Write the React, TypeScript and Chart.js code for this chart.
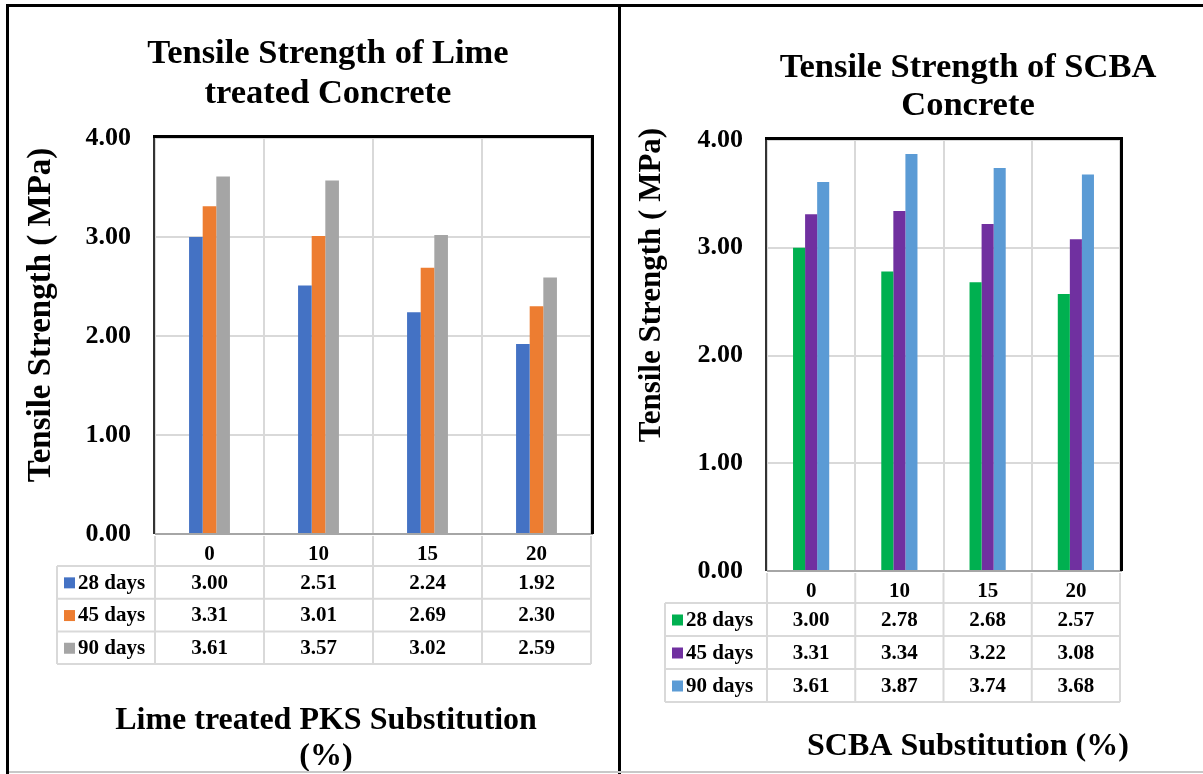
import React, { useEffect, useRef } from 'react';
import { Chart, registerables } from 'chart.js';

Chart.register(...registerables);

// ---------- data ----------
const categories = ['0', '10', '15', '20'];
const seriesNames = ['28 days', '45 days', '90 days'];
const yTicks = [0, 1, 2, 3, 4];

const lime28 = [3.0, 2.51, 2.24, 1.92];
const lime45 = [3.31, 3.01, 2.69, 2.3];
const lime90 = [3.61, 3.57, 3.02, 2.59];

const scba28 = [3.0, 2.78, 2.68, 2.57];
const scba45 = [3.31, 3.34, 3.22, 3.08];
const scba90 = [3.61, 3.87, 3.74, 3.68];

const limeTitle = ['Tensile Strength of Lime', 'treated Concrete'];
const limeXTitle = ['Lime treated PKS Substitution', '(%)'];
const scbaTitle = ['Tensile Strength of SCBA', 'Concrete'];
const scbaXTitle = ['SCBA Substitution (%)'];
const yTitleText = 'Tensile Strength ( MPa)';

const limeColors = ['#4472C4', '#ED7D31', '#A5A5A5'];
const scbaColors = ['#00B050', '#7030A0', '#5B9BD5'];

const FONT = '"Liberation Serif", "Times New Roman", serif';

// ---------- layout specs ----------
type Spec = {
  w: number;
  h: number;
  area: { left: number; right: number; top: number; bottom: number };
  series: number[][];
  colors: string[];
  catPct: number;
  title: string[];
  titleX: number;
  titleBase: number[];
  titleSize: number;
  xTitle: string[];
  xTitleX: number;
  xTitleBase: number[];
  xTitleSize: number;
  yTitleX: number;
  yTitleY: number;
  yTitleSize: number;
  legendLeft: number;
  headerGap: number;
  headerH: number;
  rowH: number;
};

const limeSpec: Spec = {
  w: 618,
  h: 772,
  area: { left: 155, right: 591, top: 138, bottom: 534 },
  series: [lime28, lime45, lime90],
  colors: limeColors,
  catPct: 0.375,
  title: limeTitle,
  titleX: 328,
  titleBase: [63, 103],
  titleSize: 34.5,
  xTitle: limeXTitle,
  xTitleX: 326,
  xTitleBase: [729, 765],
  xTitleSize: 32,
  yTitleX: 41,
  yTitleY: 315,
  yTitleSize: 33,
  legendLeft: 57,
  headerGap: 2,
  headerH: 30,
  rowH: 32.7,
};

const scbaSpec: Spec = {
  w: 582,
  h: 772,
  area: { left: 146, right: 499, top: 140, bottom: 571 },
  series: [scba28, scba45, scba90],
  colors: scbaColors,
  catPct: 0.41,
  title: scbaTitle,
  titleX: 347,
  titleBase: [77, 115],
  titleSize: 34.5,
  xTitle: scbaXTitle,
  xTitleX: 347,
  xTitleBase: [755],
  xTitleSize: 32,
  yTitleX: 31,
  yTitleY: 285,
  yTitleSize: 31,
  legendLeft: 44,
  headerGap: 2,
  headerH: 30,
  rowH: 33,
};

// ---------- plugins ----------
const panelTextPlugin = {
  id: 'panelText',
  afterDraw(chart: any, _a: any, opts: any) {
    const s: Spec = opts.spec;
    const ctx = chart.ctx;
    ctx.save();
    ctx.fillStyle = '#000';
    ctx.textAlign = 'center';
    ctx.textBaseline = 'alphabetic';
    ctx.font = `bold ${s.titleSize}px ${FONT}`;
    s.title.forEach((t, i) => ctx.fillText(t, s.titleX, s.titleBase[i]));
    ctx.font = `bold ${s.xTitleSize}px ${FONT}`;
    s.xTitle.forEach((t, i) => ctx.fillText(t, s.xTitleX, s.xTitleBase[i]));
    ctx.translate(s.yTitleX, s.yTitleY);
    ctx.rotate(-Math.PI / 2);
    ctx.textBaseline = 'middle';
    ctx.font = `bold ${s.yTitleSize}px ${FONT}`;
    ctx.fillText(yTitleText, 0, 0);
    ctx.restore();
  },
};

const framePlugin = {
  id: 'plotFrame',
  afterDatasetsDraw(chart: any) {
    const { ctx, chartArea: a } = chart;
    ctx.save();
    ctx.lineCap = 'butt';
    ctx.strokeStyle = '#A6A6A6';
    ctx.lineWidth = 2;
    ctx.beginPath();
    ctx.moveTo(a.left, a.bottom);
    ctx.lineTo(a.right + 2, a.bottom);
    ctx.stroke();
    ctx.strokeStyle = '#333';
    ctx.lineWidth = 2;
    ctx.beginPath();
    ctx.moveTo(a.left - 1, a.top - 2);
    ctx.lineTo(a.left - 1, a.bottom);
    ctx.stroke();
    ctx.strokeStyle = '#000';
    ctx.lineWidth = 3;
    ctx.beginPath();
    ctx.moveTo(a.left - 2, a.top - 1.5);
    ctx.lineTo(a.right + 1.5, a.top - 1.5);
    ctx.lineTo(a.right + 1.5, a.bottom);
    ctx.stroke();
    ctx.restore();
  },
};

const tablePlugin = {
  id: 'dataTable',
  afterDraw(chart: any, _a: any, opts: any) {
    const s: Spec = opts.spec;
    const { ctx, chartArea: a } = chart;
    const xs = chart.scales.x;
    const n = chart.data.labels.length;
    const step = xs.getPixelForTick(1) - xs.getPixelForTick(0);
    const edges: number[] = [];
    for (let i = 0; i <= n; i++) edges.push(xs.getPixelForTick(0) - step / 2 + i * step);
    const headTop = a.bottom + s.headerGap;
    const headBottom = headTop + s.headerH;
    const ds = chart.data.datasets;
    const rowTops = ds.map((_d: any, r: number) => headBottom + r * s.rowH);
    const tableBottom = headBottom + ds.length * s.rowH;

    ctx.save();
    ctx.strokeStyle = '#D9D9D9';
    ctx.lineWidth = 2;
    ctx.beginPath();
    edges.forEach((e) => {
      ctx.moveTo(e, headTop);
      ctx.lineTo(e, tableBottom);
    });
    ctx.moveTo(s.legendLeft, headBottom);
    ctx.lineTo(s.legendLeft, tableBottom);
    [headBottom, ...rowTops.slice(1), tableBottom].forEach((y: number) => {
      ctx.moveTo(s.legendLeft, y);
      ctx.lineTo(edges[n], y);
    });
    ctx.stroke();

    ctx.font = `bold 21px ${FONT}`;
    ctx.fillStyle = '#000';
    ctx.textBaseline = 'middle';
    ds.forEach((d: any, r: number) => {
      const cy = rowTops[r] + s.rowH / 2 + 1;
      ctx.fillStyle = d.backgroundColor;
      ctx.fillRect(s.legendLeft + 7, cy - 6, 11, 11);
      ctx.fillStyle = '#000';
      ctx.textAlign = 'left';
      ctx.fillText(d.label, s.legendLeft + 21, cy);
      ctx.textAlign = 'center';
      d.data.forEach((v: number, i: number) => {
        ctx.fillText(v.toFixed(2), (edges[i] + edges[i + 1]) / 2, cy);
      });
    });
    ctx.restore();
  },
};

function makeConfig(s: Spec): any {
  return {
    type: 'bar',
    data: {
      labels: categories,
      datasets: s.series.map((vals, i) => ({
        label: seriesNames[i],
        data: vals,
        backgroundColor: s.colors[i],
        borderWidth: 0,
        barPercentage: 1,
        categoryPercentage: s.catPct,
      })),
    },
    options: {
      animation: false,
      responsive: false,
      devicePixelRatio: 1,
      layout: {
        padding: { left: 0, top: s.area.top, right: s.w - s.area.right, bottom: 0 },
      },
      plugins: {
        legend: { display: false },
        tooltip: { enabled: false },
        title: { display: false },
        panelText: { spec: s },
        dataTable: { spec: s },
      },
      scales: {
        x: {
          position: 'bottom',
          grid: { color: '#D9D9D9', lineWidth: 2, drawTicks: false, offset: true },
          border: { display: false },
          ticks: {
            color: '#000',
            padding: 8,
            font: { family: FONT, size: 21, weight: 'bold' },
          },
          afterFit: (sc: any) => {
            sc.height = s.h - s.area.bottom;
          },
        },
        y: {
          min: 0,
          max: 4,
          grid: { color: '#D9D9D9', lineWidth: 2, drawTicks: false },
          border: { display: false },
          afterBuildTicks: (sc: any) => {
            sc.ticks = yTicks.map((v) => ({ value: v }));
          },
          ticks: {
            color: '#000',
            padding: 24,
            font: { family: FONT, size: 26, weight: 'bold' },
            callback: (v: any) => Number(v).toFixed(2),
          },
          afterFit: (sc: any) => {
            sc.width = s.area.left;
          },
        },
      },
    },
    plugins: [framePlugin, tablePlugin, panelTextPlugin],
  };
}

function Panel({ spec, left }: { spec: Spec; left: number }) {
  const ref = useRef<HTMLCanvasElement | null>(null);
  useEffect(() => {
    if (!ref.current) return;
    const chart = new Chart(ref.current, makeConfig(spec));
    return () => chart.destroy();
  }, [spec]);
  return (
    <div style={{ position: 'absolute', left, top: 0, width: spec.w, height: spec.h }}>
      <canvas ref={ref} width={spec.w} height={spec.h} style={{ display: 'block' }} />
    </div>
  );
}

export default function App() {
  useEffect(() => {
    document.body.style.margin = '0';
  }, []);
  const line = (l: number, t: number, w: number, h: number, c: string) => (
    <div style={{ position: 'absolute', left: l, top: t, width: w, height: h, background: c }} />
  );
  return (
    <div
      style={{
        position: 'fixed',
        left: 0,
        top: 0,
        width: 1203,
        height: 774,
        background: '#fff',
        overflow: 'hidden',
      }}
    >
      <Panel spec={limeSpec} left={0} />
      <Panel spec={scbaSpec} left={621} />
      {line(6, 4, 3, 770, '#000')}
      {line(6, 4, 1197, 3, '#000')}
      {line(618, 4, 3, 770, '#000')}
      {line(9, 771, 1194, 2, '#C8C8C8')}
    </div>
  );
}
